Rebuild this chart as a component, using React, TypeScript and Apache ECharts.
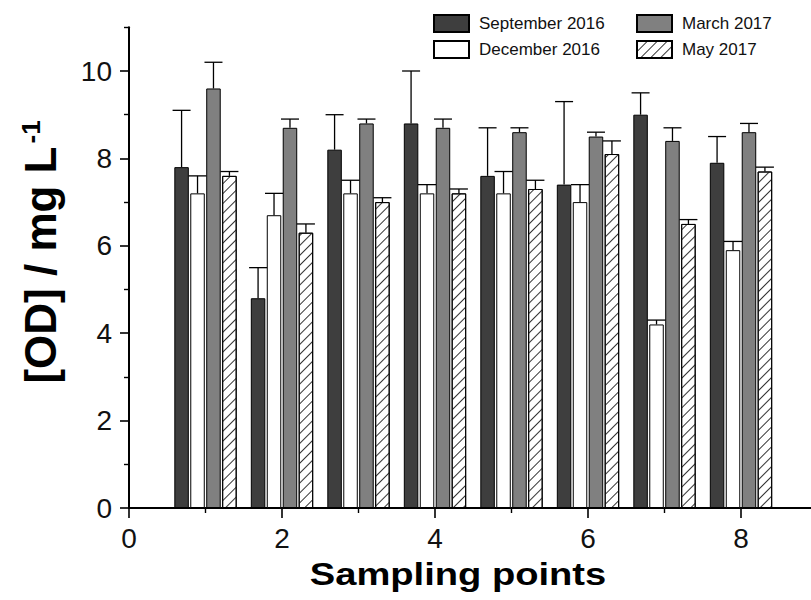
import React, { useEffect, useRef } from 'react';
import * as echarts from 'echarts';

// ---- data ----
const samplingPoints = [1, 2, 3, 4, 5, 6, 7, 8];
const seriesNames = ['September 2016', 'December 2016', 'March 2017', 'May 2017'];
const sep2016 = [7.8, 4.8, 8.2, 8.8, 7.6, 7.4, 9.0, 7.9];
const sep2016Err = [1.3, 0.7, 0.8, 1.2, 1.1, 1.9, 0.5, 0.6];
const dec2016 = [7.2, 6.7, 7.2, 7.2, 7.2, 7.0, 4.2, 5.9];
const dec2016Err = [0.4, 0.5, 0.3, 0.2, 0.5, 0.4, 0.1, 0.2];
const mar2017 = [9.6, 8.7, 8.8, 8.7, 8.6, 8.5, 8.4, 8.6];
const mar2017Err = [0.6, 0.2, 0.1, 0.2, 0.1, 0.1, 0.3, 0.2];
const may2017 = [7.6, 6.3, 7.0, 7.2, 7.3, 8.1, 6.5, 7.7];
const may2017Err = [0.1, 0.2, 0.1, 0.1, 0.2, 0.3, 0.1, 0.1];

const xMajorTicks = [0, 2, 4, 6, 8];
const xMinorTicks = [1, 3, 5, 7];
const yMajorTicks = [0, 2, 4, 6, 8, 10];
const yMinorTicks = [1, 3, 5, 7, 9, 11];

const xTitle = 'Sampling points';
const yTitle = '[OD] / mg L{sup|-1}';

// ---- styles ----
const FONT = '"Liberation Sans", Arial, Helvetica, sans-serif';
const BAR_W = 14.5;
const BAR_GAP_RATIO = 0.1;
const STEP = BAR_W * (1 + BAR_GAP_RATIO);

const values = [sep2016, dec2016, mar2017, may2017];
const errors = [sep2016Err, dec2016Err, mar2017Err, may2017Err];

const itemStyles: any[] = [
  { color: '#3e3e3e', borderColor: '#000', borderWidth: 1 },
  { color: '#ffffff', borderColor: '#000', borderWidth: 1 },
  { color: '#808080', borderColor: '#000', borderWidth: 1 },
  {
    color: '#ffffff',
    borderColor: '#000',
    borderWidth: 1,
    decal: {
      symbol: 'rect',
      symbolSize: 1,
      dashArrayX: [1, 0],
      dashArrayY: [1, 5.5],
      rotation: -Math.PI / 4,
      color: '#333',
      backgroundColor: '#ffffff',
    },
  },
];

export default function App() {
  const ref = useRef<HTMLDivElement>(null);

  useEffect(() => {
    if (!ref.current) return;
    const chart = echarts.init(ref.current, undefined, { renderer: 'svg' });

    const barSeries = seriesNames.map((name, s) => ({
      type: 'bar',
      name,
      xAxisIndex: 0,
      yAxisIndex: 0,
      data: samplingPoints.map((x, i) => [x, values[s][i]]),
      barWidth: BAR_W,
      barGap: `${BAR_GAP_RATIO * 100}%`,
      itemStyle: itemStyles[s],
      emphasis: { disabled: true },
      z: 2,
    }));

    const errData: number[][] = [];
    seriesNames.forEach((_, s) => {
      samplingPoints.forEach((x, i) => {
        errData.push([x, values[s][i], errors[s][i], s]);
      });
    });

    const errorSeries = {
      type: 'custom',
      xAxisIndex: 0,
      yAxisIndex: 0,
      data: errData,
      encode: { x: 0, y: 1 },
      z: 5,
      silent: true,
      renderItem: (params: any, api: any) => {
        const x = api.value(0);
        const v = api.value(1);
        const e = api.value(2);
        const s = api.value(3);
        const p0 = api.coord([x, v]);
        const p1 = api.coord([x, v + e]);
        const cx = p0[0] + (s - 1.5) * STEP;
        const st = { stroke: '#000', lineWidth: 1.3 };
        return {
          type: 'group',
          children: [
            { type: 'line', shape: { x1: cx, y1: p0[1], x2: cx, y2: p1[1] }, style: st },
            { type: 'line', shape: { x1: cx - 9, y1: p1[1], x2: cx + 9, y2: p1[1] }, style: st },
          ],
        };
      },
    };

    const legendCommon = {
      orient: 'vertical',
      top: 14,
      padding: 0,
      itemWidth: 35,
      itemHeight: 17,
      itemGap: 7,
      icon: 'rect',
      selectedMode: false,
      textStyle: { fontSize: 17, color: '#111', fontFamily: FONT, padding: [0, 0, 0, 5] },
    };

    const option: any = {
      animation: false,
      backgroundColor: '#ffffff',
      grid: { left: 129, right: -6.5, top: 27.3, bottom: 92, containLabel: false, outerBoundsMode: 'none' },
      legend: [
        { ...legendCommon, left: 433, data: ['September 2016', 'December 2016'] },
        { ...legendCommon, left: 636, data: ['March 2017', 'May 2017'] },
      ],
      xAxis: [
        {
          type: 'value',
          min: 0,
          max: 9,
          interval: 2,
          position: 'bottom',
          axisLine: { show: true, onZero: false, lineStyle: { color: '#000', width: 2 } },
          axisTick: { show: true, length: 10, lineStyle: { color: '#000', width: 1.6 }, customValues: xMajorTicks },
          axisLabel: { customValues: xMajorTicks, fontSize: 28, color: '#111', fontFamily: FONT, margin: 16 },
          splitLine: { show: false },
          minorTick: { show: false },
        },
        {
          type: 'value',
          min: 0,
          max: 9,
          interval: 2,
          position: 'bottom',
          axisLine: { show: false, onZero: false },
          axisTick: { show: true, length: 5, lineStyle: { color: '#000', width: 1.4 }, customValues: xMinorTicks },
          axisLabel: { show: false },
          splitLine: { show: false },
        },
      ],
      yAxis: [
        {
          type: 'value',
          min: 0,
          max: 11,
          interval: 2,
          position: 'left',
          axisLine: { show: true, onZero: false, lineStyle: { color: '#000', width: 2 } },
          axisTick: { show: true, length: 9, lineStyle: { color: '#000', width: 1.6 }, customValues: yMajorTicks },
          axisLabel: { customValues: yMajorTicks, fontSize: 28, color: '#111', fontFamily: FONT, margin: 17 },
          splitLine: { show: false },
        },
        {
          type: 'value',
          min: 0,
          max: 11,
          interval: 2,
          position: 'left',
          axisLine: { show: false, onZero: false },
          axisTick: { show: true, length: 5, lineStyle: { color: '#000', width: 1.4 }, customValues: yMinorTicks },
          axisLabel: { show: false },
          splitLine: { show: false },
        },
      ],
      graphic: [
        {
          type: 'text',
          x: 458,
          y: 574,
          scaleX: 1.23,
          silent: true,
          style: {
            text: xTitle,
            font: `bold 31px ${FONT}`,
            fill: '#000',
            align: 'center',
            verticalAlign: 'middle',
            textAlign: 'center',
            textVerticalAlign: 'middle',
          },
        },
        {
          type: 'text',
          x: 40,
          y: 252,
          rotation: Math.PI / 2,
          silent: true,
          style: {
            text: yTitle,
            font: `bold 44px ${FONT}`,
            fill: '#000',
            align: 'center',
            verticalAlign: 'middle',
            textAlign: 'center',
            textVerticalAlign: 'middle',
            rich: {
              sup: {
                fontSize: 26,
                fontWeight: 'bold',
                fontFamily: FONT,
                fill: '#000',
                verticalAlign: 'top',
                padding: [0, 0, 0, 3],
              },
            },
          },
        },
      ],
      series: [...barSeries, errorSeries],
    };

    chart.setOption(option);
    return () => chart.dispose();
  }, []);

  return (
    <div
      ref={ref}
      style={{ position: 'absolute', left: 0, top: 0, width: 811, height: 600, background: '#fff' }}
    />
  );
}
